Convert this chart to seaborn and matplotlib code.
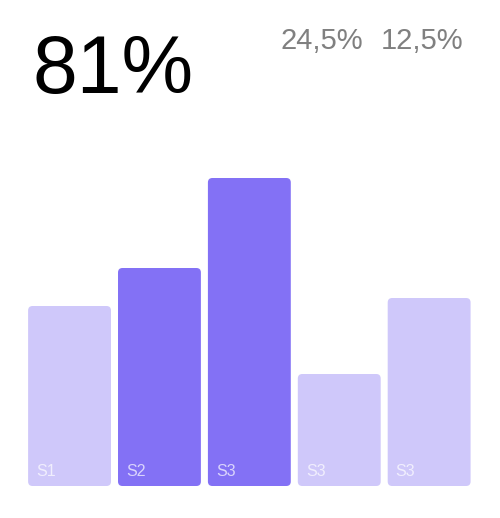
import matplotlib
matplotlib.use("Agg")
import matplotlib.pyplot as plt
import seaborn as sns
import pandas as pd
from matplotlib.patches import FancyBboxPatch

labels = ["S1", "S2", "S3", "S3", "S3"]
values = [45, 54.5, 77, 28, 47]
highlight = [False, True, True, False, False]
headline = "81%"
side_stats = ["24,5%", "12,5%"]

LIGHT = "#CFC8FA"
DARK = "#8371F5"

sns.set_theme(style="white")
plt.rcParams["font.family"] = ["Liberation Sans", "DejaVu Sans"]

fig = plt.figure(figsize=(5.0, 5.18), dpi=100)
ax = fig.add_axes([0.0492, 32 / 518, 0.899, 400 / 518])

df = pd.DataFrame({"idx": [str(i) for i in range(len(values))], "value": values,
                   "label": labels})
palette = [DARK if h else LIGHT for h in highlight]
sns.barplot(data=df, x="idx", y="value", hue="idx", palette=palette,
            width=0.922, legend=False, ax=ax, saturation=1)

ax.set_xlim(-0.5, len(values) - 0.5)
ax.set_ylim(0, 100)
ax.axis("off")

# pixels per data unit, to keep corner rounding circular
px_x = 0.899 * 500 / 5.0
px_y = 400 / 100.0
aspect = px_x / px_y

for p, lab in zip(list(ax.patches), labels):
    x, y, w, h = p.get_x(), p.get_y(), p.get_width(), p.get_height()
    fc = p.get_facecolor()
    p.remove()
    rb = FancyBboxPatch((x, y), w, h,
                        boxstyle="round,pad=0,rounding_size=%f" % (4.5 / px_x),
                        mutation_aspect=aspect,
                        facecolor=fc, edgecolor="none", linewidth=0)
    ax.add_patch(rb)
    ax.text(x + 8 / px_x, 3.6, lab, color="white", alpha=0.7, fontsize=11.5,
            ha="left", va="center")

fig.text(32 / 500, 1 - 93 / 518, headline, fontsize=58, color="black",
         ha="left", va="baseline")
fig.text(280 / 500, 1 - 49 / 518, side_stats[0], fontsize=21, color="#808080",
         ha="left", va="baseline")
fig.text(381 / 500, 1 - 49 / 518, side_stats[1], fontsize=21, color="#808080",
         ha="left", va="baseline")

fig.savefig("out.png", dpi=100, facecolor="white")
